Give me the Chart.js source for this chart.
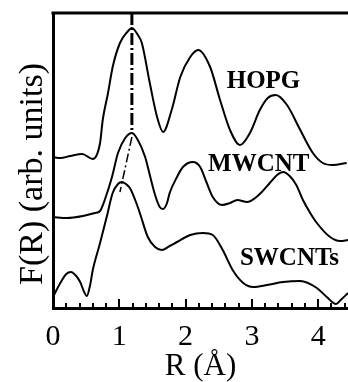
<!DOCTYPE html>
<html lang="en">
<head>
    <meta charset="UTF-8">
    <title>F(R) of HOPG, MWCNT and SWCNTs</title>
    <script src="https://cdn.jsdelivr.net/npm/chart.js"></script>
    <style>
        body { margin: 0; background: #fff; }
    </style>
</head>
<body>
    <canvas id="frChart" width="348" height="382"></canvas>

    <script>
        // R (Angstrom) and F(R) (arb. units, curves stacked with offsets)
        const hopgR = [0, 0.11, 0.26, 0.44, 0.60, 0.71, 0.75, 0.83, 0.90, 1.01, 1.12, 1.19, 1.28, 1.34, 1.46, 1.57, 1.66, 1.79, 1.92, 2.07, 2.19, 2.37, 2.52, 2.67, 2.82, 2.97, 3.12, 3.24, 3.36, 3.53, 3.73, 3.92, 4.07, 4.22, 4.43];
        const hopgF = [1.51, 1.50, 1.52, 1.54, 1.49, 1.65, 1.88, 2.15, 2.41, 2.65, 2.76, 2.80, 2.73, 2.65, 2.25, 1.91, 1.76, 1.98, 2.31, 2.51, 2.58, 2.41, 2.08, 1.78, 1.63, 1.75, 1.98, 2.10, 2.13, 2.03, 1.78, 1.55, 1.45, 1.43, 1.45];

        const mwcntR = [0, 0.21, 0.45, 0.63, 0.71, 0.78, 0.89, 0.98, 1.09, 1.19, 1.28, 1.39, 1.46, 1.54, 1.61, 1.66, 1.72, 1.76, 1.87, 1.96, 2.11, 2.22, 2.32, 2.41, 2.55, 2.67, 2.78, 2.93, 3.05, 3.15, 3.27, 3.38, 3.47, 3.57, 3.67, 3.77, 3.88, 3.98, 4.18, 4.33, 4.45];
        const mwcntF = [0.91, 0.90, 0.92, 0.95, 0.97, 1.08, 1.31, 1.55, 1.70, 1.75, 1.68, 1.51, 1.33, 1.13, 1.01, 0.99, 1.05, 1.15, 1.31, 1.41, 1.46, 1.41, 1.25, 1.11, 1.03, 1.05, 1.08, 1.06, 1.10, 1.16, 1.25, 1.33, 1.36, 1.32, 1.23, 1.08, 0.95, 0.85, 0.71, 0.67, 0.68];

        const swcntR = [0, 0.11, 0.20, 0.27, 0.35, 0.41, 0.47, 0.51, 0.56, 0.60, 0.71, 0.81, 0.90, 0.98, 1.04, 1.10, 1.16, 1.24, 1.31, 1.43, 1.54, 1.64, 1.76, 1.87, 2.07, 2.26, 2.41, 2.56, 2.71, 2.87, 3.02, 3.23, 3.47, 3.73, 3.98, 4.13, 4.27, 4.34, 4.45];
        const swcntF = [0.11, 0.25, 0.34, 0.36, 0.32, 0.26, 0.16, 0.12, 0.23, 0.38, 0.65, 0.91, 1.15, 1.24, 1.26, 1.24, 1.20, 1.08, 0.95, 0.71, 0.61, 0.58, 0.62, 0.66, 0.73, 0.75, 0.73, 0.58, 0.38, 0.25, 0.21, 0.23, 0.26, 0.27, 0.20, 0.11, 0.04, 0.08, 0.15];

        // dash-dot guide lines through the first-shell peaks
        const peakLineR = [1.19, 1.19];
        const peakLineF = [2.95, 1.75];
        const shiftLineR = [1.19, 1.01];
        const shiftLineF = [1.71, 1.16];

        const curveNames = ['HOPG', 'MWCNT', 'SWCNTs'];

        const serif = "'Liberation Serif', 'Times New Roman', serif";
        Chart.defaults.font.family = serif;
        Chart.defaults.color = '#000';

        const toPoints = (xs, ys) => xs.map((x, i) => ({ x: x, y: ys[i] }));

        const curveStyle = {
            borderColor: '#000',
            borderWidth: 2,
            pointRadius: 0,
            fill: false,
            cubicInterpolationMode: 'monotone'
        };

        // inward ticks, top frame line, y title and curve labels
        const decorations = {
            id: 'decorations',
            afterDraw(chart) {
                const ctx = chart.ctx;
                const area = chart.chartArea;
                const xs = chart.scales.x;
                ctx.save();
                ctx.strokeStyle = '#000';

                ctx.lineWidth = 3;
                ctx.beginPath();
                ctx.moveTo(area.left - 1.5, area.top);
                ctx.lineTo(area.right, area.top);
                ctx.stroke();

                ctx.lineWidth = 2;
                for (let i = 0; i <= 22; i++) {
                    const v = i * 0.2;
                    const px = Math.round(xs.getPixelForValue(v));
                    const len = i % 5 === 0 ? 9 : 5;
                    ctx.beginPath();
                    ctx.moveTo(px, area.bottom);
                    ctx.lineTo(px, area.bottom - len);
                    ctx.stroke();
                }

                ctx.fillStyle = '#000';
                ctx.font = '34px ' + serif;
                ctx.textAlign = 'center';
                ctx.textBaseline = 'middle';
                ctx.translate(33, 174);
                ctx.rotate(-Math.PI / 2);
                ctx.fillText('F(R) (arb. units)', 0, 0);
                ctx.restore();

                const ys = chart.scales.y;
                const labelAt = [[2.62, 2.20], [2.34, 1.37], [2.82, 0.43]];
                ctx.save();
                ctx.fillStyle = '#000';
                ctx.font = 'bold 25px ' + serif;
                ctx.textAlign = 'left';
                ctx.textBaseline = 'alphabetic';
                curveNames.forEach((name, i) => {
                    ctx.fillText(name, xs.getPixelForValue(labelAt[i][0]), ys.getPixelForValue(labelAt[i][1]));
                });
                ctx.restore();
            }
        };

        const ctx = document.getElementById('frChart').getContext('2d');
        const chart = new Chart(ctx, {
            type: 'line',
            data: {
                datasets: [
                    Object.assign({ label: curveNames[0], data: toPoints(hopgR, hopgF) }, curveStyle),
                    Object.assign({ label: curveNames[1], data: toPoints(mwcntR, mwcntF) }, curveStyle),
                    Object.assign({ label: curveNames[2], data: toPoints(swcntR, swcntF) }, curveStyle),
                    {
                        label: 'peak',
                        data: toPoints(peakLineR, peakLineF),
                        borderColor: '#000',
                        borderWidth: 3,
                        borderDash: [12, 3, 2, 3],
                        pointRadius: 0
                    },
                    {
                        label: 'shift',
                        data: toPoints(shiftLineR, shiftLineF),
                        borderColor: '#000',
                        borderWidth: 1.5,
                        borderDash: [9, 3, 2, 3],
                        pointRadius: 0
                    }
                ]
            },
            options: {
                responsive: false,
                animation: false,
                layout: { padding: { top: 13, left: 0, right: 0, bottom: 0 } },
                plugins: {
                    legend: { display: false },
                    tooltip: { enabled: false }
                },
                scales: {
                    x: {
                        type: 'linear',
                        min: 0,
                        max: 4.45,
                        grid: { display: false, drawTicks: false },
                        border: { display: true, color: '#000', width: 3 },
                        ticks: {
                            stepSize: 0.2,
                            includeBounds: false,
                            autoSkip: false,
                            maxRotation: 0,
                            padding: 0,
                            font: { size: 30, lineHeight: 1.95 },
                            callback: v => Math.abs(v - Math.round(v)) < 1e-6 ? String(Math.round(v)) : ''
                        },
                        title: {
                            display: true,
                            text: 'R (Å)',
                            font: { size: 31, lineHeight: 1 },
                            padding: 0
                        },
                        afterFit: scale => { scale.height = 74; }
                    },
                    y: {
                        min: 0,
                        max: 2.95,
                        grid: { display: false, drawTicks: false },
                        border: { display: true, color: '#000', width: 3 },
                        ticks: { display: false },
                        afterFit: scale => { scale.width = 53; }
                    }
                }
            },
            plugins: [decorations]
        });
    </script>
</body>
</html>
